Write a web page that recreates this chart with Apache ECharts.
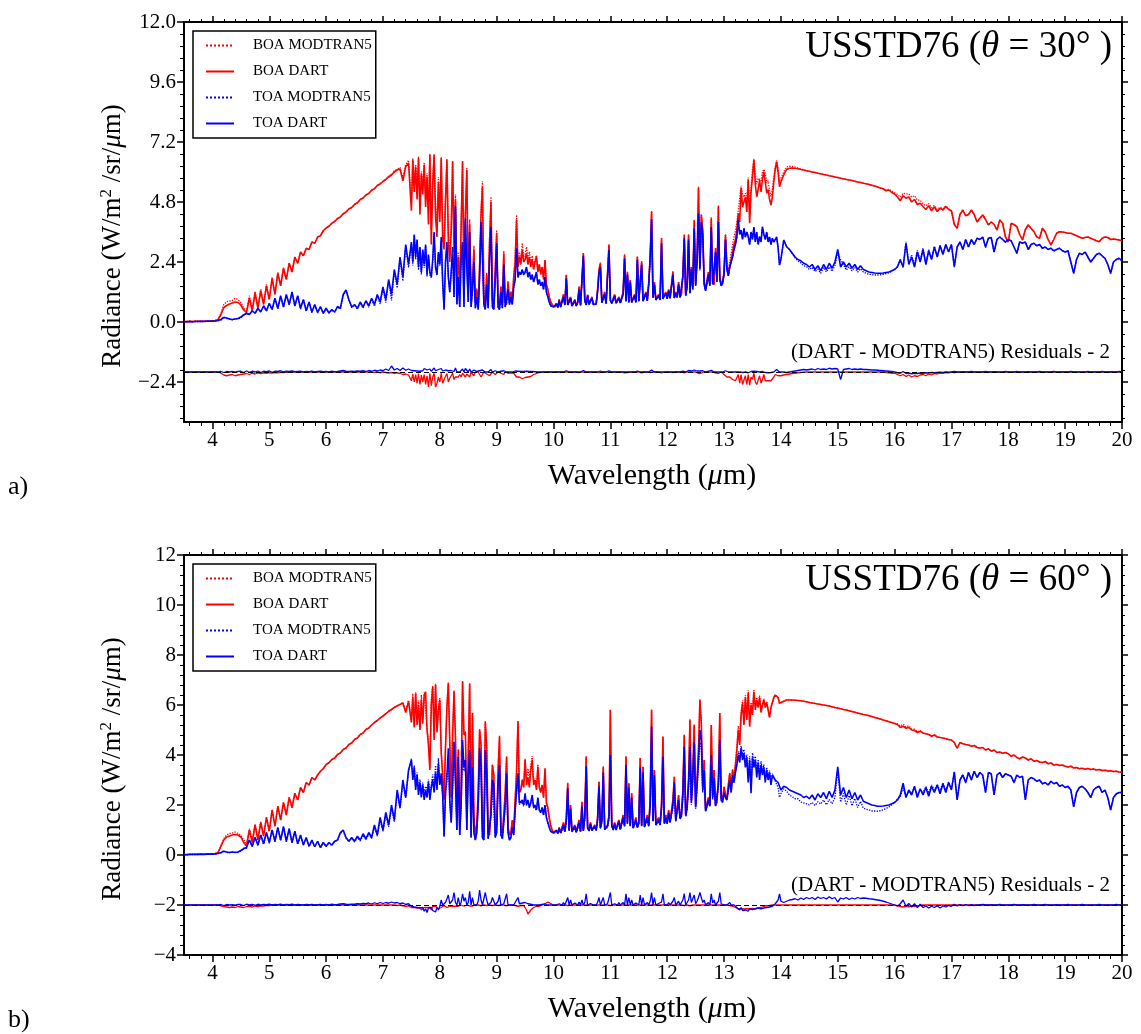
<!DOCTYPE html>
<html>
<head>
<meta charset="utf-8">
<title>USSTD76 radiance spectra</title>
<script src="https://cdn.jsdelivr.net/npm/echarts@6/dist/echarts.min.js"></script>
<style>
html,body{margin:0;padding:0;background:#fff;}
#chart{width:1141px;height:1034px;}
</style>
</head>
<body>
<div id="chart"></div>
<script>
// ---- wavelength sampling (µm) ----
const wlA = [
3.5,3.55,3.6,3.65,3.7,3.75,3.8,3.85,3.9,3.95,
4,4.05,4.1,4.15,4.2,4.25,4.3,4.35,4.4,4.45,
4.5,4.55,4.6,4.65,4.7,4.75,4.8,4.85,4.9,4.95,
5,5.05,5.1,5.15,5.2,5.25,5.3,5.35,5.4,5.45,
5.5,5.55,5.6,5.65,5.7,5.75,5.8,5.85,5.9,5.95,
6,6.05,6.1,6.15,6.2,6.25,6.3,6.35,6.4,6.45,
6.5,6.55,6.6,6.65,6.7,6.75,6.8,6.85,6.9,6.95,
7,7.05,7.1,7.15,7.2,7.25,7.3,7.35,7.4,7.45];
const wlB = [
7.5,7.525,7.55,7.575,7.6,7.625,7.65,7.675,7.7,7.725,7.75,7.775,7.8,7.825,7.85,7.875,7.9,7.925,7.95,7.975,
8,8.025,8.05,8.075,8.1,8.125,8.15,8.175,8.2,8.225,8.25,8.275,8.3,8.325,8.35,8.375,8.4,8.425,8.45,8.475,
8.5,8.525,8.55,8.575,8.6,8.625,8.65,8.675,8.7,8.725,8.75,8.775,8.8,8.825,8.85,8.875,8.9,8.925,8.95,8.975,
9,9.025,9.05,9.075,9.1,9.125,9.15,9.175,9.2,9.225,9.25,9.275,9.3,9.325,9.35,9.375,9.4,9.425,9.45,9.475,
9.5,9.525,9.55,9.575,9.6,9.625,9.65,9.675,9.7,9.725,9.75,9.775,9.8,9.825,9.85,9.875,9.9,9.925,9.95,9.975,
10,10.025,10.05,10.075,10.1,10.125,10.15,10.175,10.2,10.225,10.25,10.275,10.3,10.325,10.35,10.375,10.4,10.425,10.45,10.475,
10.5,10.525,10.55,10.575,10.6,10.625,10.65,10.675,10.7,10.725,10.75,10.775,10.8,10.825,10.85,10.875,10.9,10.925,10.95,10.975,
11,11.025,11.05,11.075,11.1,11.125,11.15,11.175,11.2,11.225,11.25,11.275,11.3,11.325,11.35,11.375,11.4,11.425,11.45,11.475,
11.5,11.525,11.55,11.575,11.6,11.625,11.65,11.675,11.7,11.725,11.75,11.775,11.8,11.825,11.85,11.875,11.9,11.925,11.95,11.975,
12,12.025,12.05,12.075,12.1,12.125,12.15,12.175,12.2,12.225,12.25,12.275,12.3,12.325,12.35,12.375,12.4,12.425,12.45,12.475,
12.5,12.525,12.55,12.575,12.6,12.625,12.65,12.675,12.7,12.725,12.75,12.775,12.8,12.825,12.85,12.875,12.9,12.925,12.95,12.975,
13,13.025,13.05,13.075,13.1,13.125,13.15,13.175,13.2,13.225,13.25,13.275,13.3,13.325,13.35,13.375,13.4,13.425,13.45,13.475,
13.5,13.525,13.55,13.575,13.6,13.625,13.65,13.675,13.7,13.725,13.75,13.775,13.8,13.825,13.85,13.875,13.9,13.925,13.95,13.975];
const wlC = [
14,14.05,14.1,14.15,14.2,14.25,14.3,14.35,14.4,14.45,
14.5,14.55,14.6,14.65,14.7,14.75,14.8,14.85,14.9,14.95,
15,15.05,15.1,15.15,15.2,15.25,15.3,15.35,15.4,15.45,
15.5,15.55,15.6,15.65,15.7,15.75,15.8,15.85,15.9,15.95,
16,16.05,16.1,16.15,16.2,16.25,16.3,16.35,16.4,16.45,
16.5,16.55,16.6,16.65,16.7,16.75,16.8,16.85,16.9,16.95,
17,17.05,17.1,17.15,17.2,17.25,17.3,17.35,17.4,17.45,
17.5,17.55,17.6,17.65,17.7,17.75,17.8,17.85,17.9,17.95,
18,18.05,18.1,18.15,18.2,18.25,18.3,18.35,18.4,18.45,
18.5,18.55,18.6,18.65,18.7,18.75,18.8,18.85,18.9,18.95,
19,19.05,19.1,19.15,19.2,19.25,19.3,19.35,19.4,19.45,
19.5,19.55,19.6,19.65,19.7,19.75,19.8,19.85,19.9,19.95,
20];

// ---- θ = 30°: BOA DART radiance (W/m²/sr/µm) ----
const boaDart30A = [
0.02,0.02,0.03,0.02,0.03,0.03,0.04,0.03,0.04,0.04,
0.05,0.06,0.10,0.30,0.58,0.66,0.72,0.76,0.80,0.78,
0.68,0.48,0.38,0.95,0.45,1.15,0.55,1.25,0.70,1.45,
0.90,1.75,1.10,1.95,1.45,2.15,1.70,2.35,2.00,2.60,
2.35,2.80,2.65,2.95,2.90,3.20,3.15,3.40,3.45,3.65,
3.76,3.83,3.95,4.02,4.14,4.20,4.33,4.40,4.52,4.58,
4.70,4.77,4.90,4.96,5.08,5.14,5.27,5.33,5.46,5.52,
5.62,5.70,5.80,5.88,6.00,6.08,6.12,5.65,6.22,6.35];
const boaDart30B = [
4.45,6.48,5.2,6.2,4.9,6.55,4.3,5.9,5.1,6.28,4.6,5.8,3.9,6.68,3.1,5.5,6.68,4.2,3.4,5.6,
4.0,6.55,3.3,2.9,4.8,6.48,3.2,2.4,3.6,6.41,2.8,4.9,1.6,2.6,1.2,3.8,6.41,1.5,4.3,6.08,
1.2,3.9,0.9,1.6,2.9,0.8,1.3,0.7,2.2,4.3,5.41,1.0,0.7,1.9,0.8,3.2,4.81,0.9,0.7,2.1,
3.55,0.8,0.65,1.4,0.7,2.75,0.8,0.7,1.6,0.9,1.2,0.9,1.8,2.4,4.08,2.2,2.6,2.3,2.88,2.4,
2.5,2.75,2.3,2.6,2.2,2.5,2.1,2.4,2.61,2.0,2.3,1.9,2.2,1.7,2.48,1.5,1.3,1.0,0.8,0.7,
0.62,0.6,0.75,0.6,0.9,0.62,0.65,1.1,0.7,1.88,0.7,0.65,1.0,0.66,0.7,0.9,0.66,0.8,1.41,0.68,
0.7,2.75,0.9,0.7,1.1,0.72,0.75,1.0,0.72,0.8,0.73,1.3,2.08,2.35,0.8,0.74,1.2,0.75,0.8,3.08,
0.9,0.76,0.8,1.1,0.77,0.78,1.0,0.78,0.8,1.2,2.68,0.85,2.0,0.8,1.68,0.8,0.82,1.1,0.8,2.61,
0.85,0.9,2.41,0.85,0.86,1.2,0.87,1.6,2.61,4.41,1.0,1.6,0.9,0.88,1.1,0.9,3.35,0.95,0.9,1.2,
0.95,1.3,0.96,1.0,2.01,0.98,1.2,1.0,1.6,1.0,1.1,1.9,3.48,1.1,1.5,3.48,1.2,2.2,1.4,4.05,
1.5,2.6,5.35,2.21,4.28,3.68,1.6,1.3,1.35,2.0,1.5,4.15,1.6,1.5,2.95,1.7,4.61,1.8,1.5,1.6,
2.0,3.48,2.2,1.9,2.21,2.5,2.8,3.1,3.3,3.7,4.35,4.0,5.35,4.6,4.55,5.0,4.4,5.68,3.95,5.2,
5.8,6.48,5.5,5.01,5.3,5.68,5.2,5.7,6.01,5.6,5.15,5.3,4.9,4.68,5.0,5.6,6.1,6.41,6.0,5.41];
const boaDart30C = [
5.6,5.88,6.1,6.15,6.16,6.15,6.13,6.1,6.08,6.05,
6.03,6.0,5.98,5.95,5.93,5.9,5.88,5.85,5.83,5.8,
5.78,5.75,5.73,5.7,5.68,5.66,5.63,5.6,5.58,5.55,
5.53,5.5,5.47,5.44,5.4,5.36,5.33,5.25,5.28,5.18,
5.12,5.0,4.85,5.05,4.95,5.0,4.8,4.9,4.7,4.75,
4.62,4.5,4.65,4.45,4.6,4.42,4.55,4.48,4.62,4.5,
4.45,3.9,3.75,4.3,4.48,4.25,4.3,4.48,4.3,4.0,
4.15,4.28,4.1,3.88,4.0,3.9,3.68,4.08,3.95,3.4,
3.2,3.95,3.9,3.81,3.5,3.28,3.7,3.88,3.75,3.62,
3.4,3.35,3.75,3.6,3.3,3.08,3.3,3.55,3.61,3.6,
3.58,3.55,3.55,3.5,3.45,3.4,3.35,3.38,3.4,3.35,
3.3,3.25,3.21,3.35,3.4,3.38,3.3,3.32,3.3,3.28,
3.25];

// ---- θ = 30°: TOA DART radiance ----
const toaDart30A = [
0.01,0.01,0.02,0.01,0.02,0.02,0.02,0.02,0.03,0.03,
0.03,0.04,0.06,0.10,0.18,0.16,0.12,0.10,0.12,0.14,
0.20,0.28,0.35,0.30,0.45,0.35,0.55,0.40,0.65,0.45,
0.75,0.50,0.95,0.55,1.05,0.60,1.10,0.70,1.20,0.65,
1.05,0.55,0.90,0.45,0.80,0.40,0.70,0.38,0.62,0.35,
0.55,0.36,0.50,0.40,0.62,0.55,1.10,1.28,0.90,0.60,
0.70,0.55,0.80,0.60,0.85,0.65,0.95,0.70,1.10,0.80,
1.40,0.90,1.70,1.10,2.10,1.50,2.60,1.80,3.10,2.30];
const toaDart30B = [
3.2,2.4,3.5,2.6,3.3,2.2,3.0,2.0,2.9,2.3,3.1,1.9,2.7,2.0,1.8,2.5,3.6,2.2,1.9,2.8,
2.3,3.4,1.6,0.5,2.4,3.2,1.8,1.2,2.0,3.0,1.0,4.64,0.7,1.8,0.6,2.5,3.2,0.6,4.15,2.2,
0.8,3.6,0.6,1.3,2.4,0.55,1.0,0.5,1.8,4.01,2.6,0.7,0.5,1.5,0.55,2.6,3.8,0.6,0.5,1.7,
3.15,0.6,0.5,1.2,0.55,2.3,0.6,0.55,1.3,0.7,1.0,0.7,1.4,1.7,2.95,1.8,2.0,1.9,2.1,1.9,
2.0,2.2,1.8,2.0,1.7,1.9,1.6,1.8,2.0,1.5,1.7,1.45,1.6,1.3,1.8,1.2,1.0,0.8,0.65,0.6,
0.6,0.58,0.72,0.58,0.85,0.6,0.62,1.0,0.68,1.75,0.68,0.62,0.95,0.64,0.68,0.85,0.64,0.76,1.3,0.66,
0.68,2.65,0.85,0.68,1.05,0.7,0.72,0.95,0.7,0.77,0.71,1.2,1.95,2.2,0.77,0.72,1.1,0.73,0.77,2.88,
0.86,0.74,0.77,1.05,0.75,0.76,0.95,0.76,0.78,1.1,2.55,0.82,1.9,0.78,1.6,0.78,0.8,1.05,0.78,2.5,
0.83,0.87,2.3,0.83,0.84,1.15,0.85,1.5,2.5,4.11,0.97,1.5,0.88,0.86,1.05,0.88,3.15,0.92,0.88,1.15,
0.93,1.25,0.94,0.98,1.9,0.96,1.15,0.98,1.5,0.98,1.05,1.8,3.35,1.05,1.4,3.3,1.15,2.1,1.3,3.75,
1.45,2.4,4.35,2.1,4.0,3.5,1.5,1.25,1.3,1.9,1.45,3.8,1.5,1.45,2.8,1.6,4.01,1.7,1.45,1.55,
1.9,3.3,2.1,1.85,2.2,2.4,2.6,2.9,3.1,3.4,4.08,3.5,3.68,3.3,3.75,3.4,3.6,3.41,3.1,3.6,
3.3,3.8,3.2,3.6,3.1,3.41,3.2,3.81,3.5,3.3,3.6,3.2,3.4,3.1,3.35,3.2,3.3,3.41,3.0,2.28];
const toaDart30C = [
2.5,3.28,3.01,2.9,2.75,2.6,2.5,2.45,2.35,2.3,
2.2,2.3,2.1,2.25,2.05,2.3,2.1,2.35,2.15,2.4,
2.9,2.2,2.4,2.2,2.35,2.15,2.3,2.1,2.25,2.1,
2.05,2.0,1.98,1.96,1.95,1.95,1.96,1.98,2.0,2.05,
2.1,2.2,2.48,2.2,3.15,2.3,2.6,2.2,2.8,2.4,
2.9,2.3,2.85,2.5,3.0,2.6,3.05,2.7,3.1,2.8,
3.1,2.21,3.0,3.2,2.9,3.3,3.0,3.3,3.1,3.35,
3.3,3.4,3.0,3.35,3.38,2.8,3.3,3.4,3.3,3.2,
3.3,3.25,3.0,2.75,3.2,3.15,3.2,2.9,3.1,3.15,
3.05,3.1,2.95,3.0,2.9,2.95,2.85,2.9,2.95,2.85,
2.8,2.85,2.4,1.95,2.5,2.75,2.7,2.8,2.6,2.4,
2.55,2.7,2.75,2.65,2.55,2.3,1.95,2.4,2.5,2.55,
2.45];

// ---- θ = 30°: residuals DART − MODTRAN5 ----
const residBoa30A = [
0,0,0,0,0,0,0,0,0,0,
0,0,0,-0.05,-0.12,-0.15,-0.12,-0.1,-0.15,-0.12,
-0.1,-0.08,-0.06,-0.1,-0.05,-0.08,-0.04,-0.06,-0.03,-0.05,
-0.02,-0.04,-0.02,-0.03,-0.01,-0.02,0,-0.01,0,0,
0,0,0,0,0,0,0,0,0,0,
0,0,0,0,0,0,0,0,0,0,
0,0,0,0,0,0,0,-0.02,0,-0.03,
0,-0.02,-0.04,-0.02,-0.05,-0.03,-0.06,-0.1,-0.08,-0.12];
const residBoa30B = [
-0.35,-0.08,-0.4,-0.1,-0.45,-0.06,-0.5,-0.12,-0.4,-0.1,-0.5,-0.15,-0.6,-0.05,-0.55,-0.2,-0.05,-0.6,-0.45,-0.2,
-0.4,-0.05,-0.45,-0.3,-0.3,-0.06,-0.4,-0.25,-0.3,-0.05,-0.3,-0.2,-0.15,-0.2,-0.1,-0.2,-0.05,-0.1,-0.2,-0.08,
-0.05,-0.2,0,-0.05,-0.15,0,-0.05,0,-0.1,-0.2,-0.22,0,0,-0.08,0,-0.15,-0.2,0,0,-0.1,
-0.12,0,0,-0.05,0,-0.1,0,0,-0.05,0,-0.03,0,-0.05,-0.1,-0.2,-0.15,-0.2,-0.22,-0.27,-0.2,
-0.22,-0.25,-0.2,-0.22,-0.18,-0.15,-0.1,-0.08,-0.06,-0.04,-0.02,0,0,0,0,0,0,0,0,0,
0,0,0,0,0,0,0,0,0,-0.02,0,0,0,0,0,0,0,0,-0.02,0,
0,-0.03,0,0,0,0,0,0,0,0,0,0,-0.02,-0.03,0,0,0,0,0,-0.03,
0,0,0,0,0,0,0,0,0,0,-0.03,0,-0.02,0,0,0,0,0,0,-0.03,
0,0,-0.03,0,0,0,0,0,-0.02,-0.04,0,0,0,0,0,0,-0.04,0,0,0,
0,0,0,0,-0.02,0,0,0,0,0,0,0,-0.04,0,0,-0.04,0,0,0,-0.05,
0,-0.02,-0.06,0,-0.04,-0.03,0,0,0,0,0,-0.05,0,0,-0.03,0,-0.06,0,0,-0.05,
-0.1,-0.05,-0.2,-0.15,-0.2,-0.25,-0.3,-0.3,-0.35,-0.3,-0.1,-0.45,-0.1,-0.5,-0.45,-0.15,-0.5,-0.1,-0.53,-0.2,
-0.3,-0.05,-0.4,-0.5,-0.45,-0.15,-0.45,-0.3,-0.1,-0.35,-0.4,-0.35,-0.35,-0.35,-0.3,-0.2,-0.1,-0.05,-0.15,-0.2];
const residBoa30C = [
-0.15,-0.12,-0.1,-0.08,-0.06,-0.05,-0.03,-0.02,-0.01,0,
0,0,0,0,0,0,0,0,0,0,
0,0,0,0,0,0,0,0,0,0,
0,0,0,0,0,0,0,-0.02,-0.03,-0.05,
-0.05,-0.1,-0.15,-0.1,-0.18,-0.12,-0.2,-0.15,-0.18,-0.12,
-0.1,-0.15,-0.08,-0.12,-0.06,-0.08,-0.04,-0.05,-0.02,-0.03,
0,-0.02,0,0,0,0,0,0,0,0,
0,0,0,0,0,0,0,0,0,0,
0,0,0,0,0,0,0,0,0,0,
0,0,0,0,0,0,0,0,0,0,
0,0,0,0,0,0,0,0,0,0,
0,0,0,0,0,0,0,0,0,0,
0];
const residToa30A = [
0,0,0,0,0,0,0,0,0,0,
0,0,0,0.02,-0.02,0.02,0,0.02,-0.01,0.02,
0.03,-0.02,0.04,-0.01,0.03,0,0.04,-0.02,0.03,0.01,
0.04,-0.01,0.03,0.02,0.05,0,0.03,0.02,0.04,0.01,
0.02,0.03,0,0.02,0.01,0.03,0,0.02,0.03,0.01,
0.02,0,0.03,0.01,0.02,0.04,0.06,0.03,0.02,0.03,
0.02,0.04,0.03,0.05,0.02,0.06,0.03,0.07,0.04,0.08,
0.05,0.12,0.06,0.24,0.08,0.14,0.06,0.16,0.07,0.12];
const residToa30B = [
0.06,0.14,0.05,0.1,0.04,0.12,0.03,0.1,0.05,0.14,0.06,0.08,0.04,0.12,0.03,0.1,0.16,0.05,0.04,0.1,
0.05,0.14,0.04,0,0.08,0.12,0.05,0.03,0.06,0.1,0.02,0.16,0,0.05,0,0.08,0.12,0,0.14,0.06,
0,0.12,0,0.04,0.08,0,0.02,0,0.05,0.12,0.08,0,0,0.04,0,0.08,0.1,0,0,0.05,
0.08,0,0,0.03,0,0.05,0,0,0.03,0,0.02,0,0.03,0.04,0.07,0.03,0.02,0.02,0.03,0.02,
0.02,0.03,0.01,0.02,0.01,0.02,0,0.01,0.02,0,0.01,0,0,0,0,0,0,0,0,0,
0,0,0,0,0,0,0,0,0,0.05,0,0,0,0,0,0,0,0,0.03,0,
0,0.06,0,0,0,0,0,0,0,0,0,0,0.03,0.04,0,0,0,0,0,0.05,
0,0,0,0,0,0,0,0,0,0,0.05,0,0.03,0,0,0,0,0,0,0.04,
0,0,0.05,0,0,0,0,0,0.04,0.08,0,0,0,0,0,0,0.06,0,0,0,
0,0,0,0,0.04,0,0,0,0,0,0,0.03,0.07,0,0,0.06,0,0.04,0,0.08,
0,0.04,0.1,0.04,0.07,0.05,0,0,0,0.03,0,0.07,0,0,0.05,0,0.08,0,0,0,
0,0.05,0,0,0,0,0,0,-0.02,0,0.04,0,0.03,-0.02,0.04,0,0.02,-0.03,0,0.02,
-0.02,0.03,-0.03,0.02,-0.04,0,-0.03,0.02,0,-0.02,0.02,-0.03,0,-0.02,0.02,0,0.05,0.1,0.04,0];
const residToa30C = [
-0.03,0,-0.02,0,0.02,0.04,0.06,0.08,0.1,0.08,
0.1,0.12,0.08,0.14,0.1,0.12,0.1,0.15,0.12,0.14,
0.12,-0.3,0.1,0.12,0.14,0.1,0.12,0.1,0.12,0.1,
0.1,0.09,0.08,0.08,0.07,0.06,0.05,0.04,0.03,0.02,
0,-0.03,-0.05,0.02,-0.06,-0.04,-0.07,-0.05,-0.06,-0.04,
-0.05,-0.03,-0.04,-0.02,-0.03,-0.02,-0.01,-0.02,0,-0.01,
0,0.02,0,0,0.01,0,0,0.02,0,0,
0,0,0.02,0,0,0.01,0,0,0,0.02,
0,0,0,0.02,0,0,0,0.01,0,0,
0,0.02,0,0,0,0,0.02,0,0,0,
0,0,0.02,0,0,0,0,0,0.02,0,
0,0,0,0.02,0,0,0.01,0,0,0.02,
0];

// ---- θ = 60°: BOA DART radiance ----
const boaDart60A = [
0.02,0.02,0.03,0.03,0.03,0.04,0.04,0.03,0.05,0.05,
0.05,0.06,0.1,0.35,0.6,0.72,0.76,0.8,0.82,0.8,
0.72,0.5,0.36,1.0,0.5,1.2,0.6,1.3,0.75,1.5,
0.95,1.8,1.15,1.95,1.4,2.1,1.6,2.3,1.9,2.47,
2.2,2.7,2.5,2.9,2.8,3.1,3.0,3.2,3.35,3.45,
3.62,3.69,3.82,3.88,4.02,4.08,4.22,4.28,4.42,4.48,
4.62,4.68,4.82,4.88,5.02,5.08,5.2,5.3,5.38,5.48,
5.56,5.65,5.75,5.82,5.9,5.96,6.02,6.08,5.7,6.15];
const boaDart60B = [
5.3,6.3,5.1,6.47,5.2,6.0,5.0,6.2,5.25,6.4,6.53,5.0,4.4,3.4,6.0,6.73,4.6,6.8,4.9,5.8,
6.2,4.07,3.2,2.2,4.3,5.9,6.87,4.5,2.3,4.8,6.53,4.7,1.4,4.2,1.2,2.8,6.93,4.8,4.9,1.6,
4.0,6.84,1.0,5.67,1.5,0.8,1.2,2.5,5.0,4.4,1.0,0.8,5.33,4.3,0.9,0.8,2.0,3.6,3.2,0.9,
1.2,3.4,4.73,1.0,0.85,1.6,2.5,3.93,1.1,0.8,0.9,1.4,1.0,2.2,3.3,5.33,2.5,2.6,3.0,2.7,
3.8,2.8,3.1,2.7,3.4,3.8,2.8,3.0,2.6,3.53,2.7,2.5,2.8,2.3,3.47,2.1,1.9,1.5,1.2,1.0,
0.9,0.88,1.0,0.88,1.1,0.9,0.92,1.3,0.95,1.5,2.87,1.0,2.0,0.95,0.92,1.2,0.93,1.0,1.4,0.95,
2.13,0.98,1.6,3.93,1.1,0.98,1.3,1.0,1.0,1.2,1.0,1.5,2.93,1.1,1.4,3.53,1.05,1.0,1.2,1.6,
5.8,1.2,1.02,1.3,1.03,1.05,1.4,1.05,1.1,1.6,1.2,3.93,1.3,2.87,1.2,2.47,1.1,1.15,1.5,1.12,
1.3,3.87,1.2,3.53,1.15,1.2,1.6,1.2,2.2,5.8,1.4,3.4,1.25,1.2,1.5,1.25,2.0,4.73,1.3,1.6,
1.3,1.8,1.35,1.4,2.2,3.13,1.4,1.45,2.4,1.5,1.6,2.6,4.8,1.6,2.0,3.0,5.4,2.2,3.4,5.2,
2.0,3.0,4.2,6.2,5.27,2.7,3.8,1.8,1.85,2.3,2.0,5.2,2.4,3.4,2.0,2.1,3.0,5.67,2.3,2.2,
2.73,2.4,2.3,2.8,3.27,2.6,3.4,3.0,3.6,4.2,5.0,4.4,5.6,6.07,5.2,6.3,5.4,6.47,5.13,6.0,
5.6,6.53,5.8,6.2,5.9,6.3,5.7,6.0,6.2,5.9,6.1,5.8,5.5,5.9,6.1,6.3,6.4,6.47,6.3,6.07];
const boaDart60C = [
6.07,6.15,6.2,6.2,6.2,6.19,6.18,6.17,6.15,6.13,
6.1,6.08,6.06,6.04,6.02,6.0,5.98,5.96,5.93,5.9,
5.88,5.85,5.82,5.8,5.77,5.74,5.71,5.68,5.65,5.62,
5.6,5.57,5.54,5.5,5.47,5.44,5.4,5.37,5.33,5.3,
5.26,5.22,5.1,5.15,5.07,5.1,5.0,4.98,4.9,4.95,
4.88,4.85,4.82,4.75,4.8,4.72,4.7,4.68,4.65,4.62,
4.6,4.5,4.27,4.5,4.45,4.42,4.4,4.35,4.38,4.3,
4.28,4.3,4.2,4.25,4.15,4.2,4.1,4.12,4.07,4.1,
4.05,3.95,4.0,3.9,3.85,3.92,3.88,3.8,3.85,3.75,
3.78,3.72,3.7,3.74,3.65,3.68,3.6,3.62,3.58,3.6,
3.55,3.52,3.55,3.48,3.5,3.45,3.47,3.43,3.46,3.42,
3.44,3.4,3.42,3.38,3.39,3.36,3.37,3.34,3.35,3.32,
3.3];

// ---- θ = 60°: TOA DART radiance ----
const toaDart60A = [
0.01,0.01,0.02,0.02,0.02,0.02,0.03,0.02,0.03,0.03,
0.03,0.04,0.06,0.1,0.15,0.12,0.1,0.12,0.1,0.12,
0.18,0.25,0.3,0.6,0.35,0.7,0.4,0.8,0.45,0.9,
0.5,1.0,0.55,1.1,0.6,1.13,0.55,1.05,0.5,0.95,
0.45,0.8,0.4,0.7,0.35,0.6,0.33,0.55,0.3,0.5,
0.35,0.5,0.4,0.55,0.6,0.9,1.0,0.7,0.55,0.7,
0.55,0.75,0.6,0.85,0.65,0.9,0.7,1.2,0.8,1.5,
1.0,1.7,1.2,2.0,1.4,2.6,1.9,3.0,2.3,3.4];
const toaDart60B = [
3.8,3.0,3.5,2.6,3.2,2.4,2.9,2.3,2.8,2.2,2.6,2.3,2.9,2.2,2.7,3.0,2.5,3.3,2.6,3.67,
2.8,3.27,2.4,0.73,2.5,3.2,4.27,2.2,1.3,2.8,4.53,3.0,1.0,3.93,0.8,2.0,4.6,3.5,3.8,1.0,
3.2,4.2,0.7,3.5,0.9,0.6,0.9,2.0,4.27,3.5,0.7,0.6,4.2,3.2,0.65,0.6,1.6,3.0,2.8,0.7,
0.9,2.8,3.6,0.8,0.65,1.3,2.0,3.27,0.9,0.6,0.7,1.1,0.8,1.8,2.6,3.27,2.07,2.1,2.2,2.0,
2.47,2.0,2.2,1.9,2.1,2.4,1.9,2.0,1.8,2.3,1.8,1.7,1.9,1.6,2.0,1.5,1.3,1.1,0.95,0.88,
0.88,0.86,0.97,0.86,1.05,0.88,0.9,1.2,0.93,1.4,2.67,0.97,1.85,0.93,0.9,1.15,0.91,0.98,1.3,0.93,
1.95,0.96,1.5,3.56,1.07,0.96,1.25,0.98,0.98,1.15,0.98,1.4,2.75,1.07,1.35,3.3,1.02,0.98,1.15,1.5,
4.0,1.15,1.0,1.25,1.0,1.02,1.35,1.02,1.07,1.5,1.15,3.6,1.25,2.7,1.15,2.3,1.07,1.12,1.4,1.1,
1.25,3.5,1.15,3.3,1.12,1.15,1.5,1.15,2.0,5.13,1.35,3.2,1.2,1.15,1.4,1.2,1.9,3.93,1.25,1.5,
1.25,1.7,1.3,1.35,2.0,2.9,1.35,1.4,2.2,1.45,1.55,2.4,4.33,1.55,1.9,2.8,4.33,2.1,3.1,4.5,
1.9,2.8,3.8,5.0,4.6,2.6,3.4,1.75,1.8,2.2,1.95,4.0,2.3,3.1,1.95,2.0,2.8,4.6,2.2,2.1,
2.5,2.3,2.2,2.6,3.0,2.5,3.2,2.9,3.3,3.6,4.0,3.7,4.27,3.8,4.07,3.5,3.9,2.9,3.8,2.47,
3.9,3.5,3.8,3.1,3.7,3.0,3.6,3.2,3.5,2.9,3.4,3.0,3.3,2.8,3.2,3.1,3.0,3.07,2.9,2.75];
const toaDart60C = [
2.6,2.75,2.7,2.6,2.55,2.5,2.45,2.4,2.3,2.35,
2.25,2.4,2.2,2.45,2.3,2.5,2.25,2.55,2.3,2.6,
3.53,2.4,2.7,2.3,2.6,2.25,2.5,2.2,2.4,2.15,
2.1,2.05,2.0,1.98,1.95,1.95,1.96,1.98,2.0,2.05,
2.1,2.2,2.4,2.87,2.3,2.6,2.4,2.75,2.3,2.65,
2.4,2.7,2.35,2.75,2.5,2.8,2.45,2.85,2.5,2.9,
2.6,3.33,2.2,3.0,3.2,2.9,3.3,3.0,3.35,3.1,
3.3,3.2,2.5,3.3,3.25,2.4,3.2,3.3,3.1,3.25,
3.2,3.15,2.9,3.2,3.1,3.15,2.2,3.0,3.1,3.05,
2.95,3.0,2.85,2.9,2.8,2.95,2.85,2.9,2.75,2.8,
2.7,2.75,2.6,1.93,2.5,2.7,2.75,2.65,2.5,2.3,
2.6,2.7,2.75,2.5,2.6,2.3,1.8,2.3,2.45,2.5,
2.5];

// ---- θ = 60°: residuals DART − MODTRAN5 ----
const residBoa60A = [
0,0,0,0,0,0,0,0,0,0,
0,0,0,-0.03,-0.06,-0.08,-0.1,-0.08,-0.1,-0.06,
-0.08,-0.1,-0.06,-0.05,-0.08,-0.04,-0.06,-0.03,-0.04,-0.02,
-0.02,0,-0.01,0,0,0,0,0,0,0,
0,0,0,0,0,0,0,0,0,0,
0,0,0,0,0,0,0,0,0,0,
0,0,0,0,0,0,0,0,0,0,
0,0,0,0,0,-0.02,0,-0.03,-0.05,-0.04];
const residBoa60B = [
-0.1,-0.15,-0.1,-0.05,-0.12,-0.18,-0.1,-0.2,-0.15,-0.1,-0.05,-0.1,-0.15,-0.1,-0.2,-0.05,-0.1,-0.05,-0.1,-0.15,
-0.1,-0.1,-0.05,-0.02,-0.05,-0.1,-0.03,-0.05,0,-0.05,-0.05,-0.05,0,-0.05,0,0,-0.03,-0.05,-0.05,0,
-0.03,-0.04,0,-0.04,0,0,0,0,-0.05,-0.03,0,0,-0.04,-0.02,0,0,0,-0.02,-0.02,0,
0,-0.02,-0.04,0,0,0,0,-0.03,0,0,0,0,0,-0.02,-0.03,-0.05,-0.03,-0.02,-0.03,-0.02,
-0.05,-0.2,-0.36,-0.3,-0.2,-0.15,-0.1,-0.08,-0.05,-0.1,-0.05,-0.03,0,0.02,0.05,0.08,0.12,0.1,0.06,0.03,
0,0,0,0,0,0,0,0,0,0,-0.02,0,0,0,0,0,0,0,0,0,
0,0,0,-0.02,0,0,0,0,0,0,0,0,0,0,0,-0.02,0,0,0,0,
-0.02,0,0,0,0,0,0,0,0,0,0,-0.02,0,0,0,0,0,0,0,0,
0,-0.02,0,0,0,0,0,0,0,-0.03,0,0,0,0,0,0,0,-0.02,0,0,
0,0,0,0,0,0,0,0,0,0,0,0,-0.02,0,0,0,-0.03,0,0,-0.02,
0,0,0,-0.03,0,0,0,0,0,0,0,-0.02,0,0,0,0,0,-0.03,0,0,
0,0,0,0,-0.02,-0.03,-0.05,-0.08,-0.1,-0.12,-0.16,-0.1,-0.14,-0.12,-0.16,-0.1,-0.15,-0.12,-0.16,-0.1,
-0.14,-0.1,-0.15,-0.1,-0.12,-0.08,-0.1,-0.06,-0.05,-0.04,-0.03,-0.02,-0.02,0,0,0,0,0,0,0];
const residBoa60C = [
0,0,0,0,0,0,0,0,0,0,
0,0,0,0,0,0,0,0,0,0,
0,0,0,0,0,0,0,0,0,0,
0,0,0,0,0,0,0,0,0,0,
0,-0.03,-0.06,-0.08,-0.05,-0.07,-0.04,-0.05,-0.03,-0.02,
0,0,0,0,0,0,0,0,0,0,
0,0,0,0,0,0,0,0,0,0,
0,0,0,0,0,0,0,0,0,0,
0,0,0,0,0,0,0,0,0,0,
0,0,0,0,0,0,0,0,0,0,
0,0,0,0,0,0,0,0,0,0,
0,0,0,0,0,0,0,0,0,0,
0];
const residToa60A = [
0,0,0,0,0,0,0,0,0,0,
0,0,0,0.02,-0.02,0.02,0,0.01,-0.01,0.02,
0.02,-0.02,0.03,0,0.02,-0.01,0.03,0,0.02,0.01,
0.03,0,0.02,0.01,0.03,0,0.02,0.01,0.03,0,
0.02,0.01,0,0.02,0.01,0.02,0,0.01,0.02,0,
0.02,0,0.03,0.01,0.02,0.04,0.05,0.03,0.02,0.03,
0.03,0.05,0.04,0.06,0.05,0.08,0.04,0.09,0.05,0.1,
0.06,0.1,0.07,0.12,0.08,0.1,0.05,0.08,0.02,0.05];
const residToa60B = [
-0.05,-0.12,-0.08,-0.15,-0.1,-0.18,-0.12,-0.2,-0.1,-0.25,-0.15,-0.3,-0.12,-0.2,-0.1,-0.22,-0.15,-0.28,-0.1,-0.2,
-0.05,0.2,0,-0.05,0.1,0.25,0.4,0.05,0,0.2,0.5,0.1,0,0.3,0,0.1,0.45,0.15,0.3,0,
0.1,0.55,0,0.3,0,0,0,0.15,0.6,0.2,0,0,0.5,0.2,0,0,0.1,0.3,0.15,0,
0,0.15,0.4,0,0,0.05,0.1,0.45,0,0,0,0.05,0,0.1,0.15,0.3,0.05,0.05,0.08,0.05,
0.1,0.02,0.05,0,0.03,0.06,0,0.02,0,0.05,0,0,0.02,0,0.04,0,0,0,0,0,
0,0,0,0,0.05,0,0,0.1,0,0.15,0.3,0,0.2,0,0,0.08,0,0,0.12,0,
0.2,0,0.1,0.45,0,0,0.06,0,0,0.05,0,0.1,0.3,0,0.08,0.3,0,0,0.05,0.1,
0.5,0,0,0.05,0,0,0.1,0,0,0.1,0,0.45,0,0.3,0,0.2,0,0,0.08,0,
0,0.4,0,0.3,0,0,0.1,0,0.15,0.5,0,0.3,0,0,0.06,0,0.12,0.45,0,0.08,
0,0.1,0,0,0.15,0.3,0,0,0.15,0,0.05,0.2,0.45,0,0.1,0.2,0.5,0.1,0.25,0.4,
0.05,0.15,0.3,0.5,0.3,0.1,0.2,0,0,0.1,0,0.45,0.08,0.2,0,0.05,0.15,0.5,0.05,0,
0,0,0,0.05,0.1,0,0.05,0,-0.05,-0.1,-0.15,-0.2,-0.1,-0.22,-0.15,-0.2,-0.12,-0.25,-0.15,-0.22,
-0.18,-0.2,-0.15,-0.22,-0.12,-0.2,-0.15,-0.18,-0.12,-0.15,-0.1,-0.12,-0.08,-0.1,-0.05,0,0.05,0.1,0.2,0.44];
const residToa60C = [
0.15,0.1,0.15,0.2,0.22,0.25,0.2,0.28,0.22,0.3,
0.25,0.3,0.22,0.32,0.26,0.3,0.24,0.33,0.25,0.3,
0.12,0.28,0.24,0.3,0.22,0.28,0.24,0.3,0.26,0.28,
0.27,0.25,0.24,0.22,0.2,0.18,0.15,0.12,0.08,0.04,
0,-0.04,0.05,0.2,-0.05,0.06,-0.08,0.05,-0.1,0.03,
-0.1,-0.04,-0.12,-0.05,-0.1,-0.03,-0.12,-0.04,-0.08,-0.02,
-0.05,0.03,-0.04,0.02,-0.03,0.02,-0.02,0.01,-0.02,0,
0,0.02,0,0,0.01,0,0,0.02,0,0,
0,0,0.02,0,0,0.01,0,0,0,0.02,
0,0,0,0.02,0,0,0,0.01,0,0,
0,0.02,0,0,0,0,0.02,0,0,0,
0,0,0.02,0,0,0,0,0,0.02,0,
0];

// ---- axis ticks ----
const xTicks = [4,5,6,7,8,9,10,11,12,13,14,15,16,17,18,19,20];
const yTicks30 = [-2.4,0,2.4,4.8,7.2,9.6,12];
const yTicks60 = [-4,-2,0,2,4,6,8,10,12];

const legendNames = ['BOA MODTRAN5','BOA DART','TOA MODTRAN5','TOA DART'];
const RESIDUAL_OFFSET = 2;
const X_MIN = 3.5, X_MAX = 20, Y_MIN = -4, Y_MAX = 12;
const RED = '#ff0000', BLUE = '#0000ff';
const SERIF = '"Liberation Serif","DejaVu Serif","Times New Roman",serif';

// ---- assemble ----
const wl = wlA.concat(wlB, wlC);
const join = (a, b, c) => a.concat(b, c);
const toPairs = ys => wl.map((x, i) => [x, ys[i]]);
const modtranFrom = (dart, resid) => dart.map((v, i) => +(v - resid[i]).toFixed(3));
const offsetResid = resid => resid.map(v => +(v - RESIDUAL_OFFSET).toFixed(3));

function minorTicks(step, lo, hi) {
  const out = [];
  for (let k = Math.ceil(lo / step - 1e-9); k * step <= hi + 1e-9; k++) {
    if (k % 5 !== 0) out.push(+(k * step).toFixed(3));
  }
  return out;
}
const xMinor = minorTicks(0.2, X_MIN, X_MAX);

const panels = [
  {
    boa: join(boaDart30A, boaDart30B, boaDart30C),
    toa: join(toaDart30A, toaDart30B, toaDart30C),
    rBoa: join(residBoa30A, residBoa30B, residBoa30C),
    rToa: join(residToa30A, residToa30B, residToa30C),
    yTicks: yTicks30, yMinor: minorTicks(0.48, Y_MIN, Y_MAX),
    fmt: v => v.toFixed(1).replace('-', '\u2212'),
    angle: '30', top: 22, tag: 'a)'
  },
  {
    boa: join(boaDart60A, boaDart60B, boaDart60C),
    toa: join(toaDart60A, toaDart60B, toaDart60C),
    rBoa: join(residBoa60A, residBoa60B, residBoa60C),
    rToa: join(residToa60A, residToa60B, residToa60C),
    yTicks: yTicks60, yMinor: minorTicks(0.4, Y_MIN, Y_MAX),
    fmt: v => String(v).replace('-', '\u2212'),
    angle: '60', top: 555, tag: 'b)'
  }
];

const GRID_LEFT = 184, GRID_W = 938, GRID_H = 400;
const lineAxis = { color: '#000', width: 2 };
const majorTick = { color: '#000', width: 1.5 };
const minorTick = { color: '#000', width: 1 };

const grids = [], xAxes = [], yAxes = [], series = [], legends = [], graphics = [];

panels.forEach((p, g) => {
  grids.push({ left: GRID_LEFT, top: p.top, width: GRID_W, height: GRID_H, containLabel: false });

  const xb = { type: 'value', gridIndex: g, min: X_MIN, max: X_MAX, splitLine: { show: false } };
  xAxes.push(
    Object.assign({}, xb, { position: 'bottom',
      axisLine: { show: true, onZero: false, lineStyle: lineAxis },
      axisTick: { show: true, customValues: xTicks, length: 7, lineStyle: majorTick },
      axisLabel: { show: true, customValues: xTicks, margin: 8, color: '#000', fontFamily: SERIF, fontSize: 21 } }),
    Object.assign({}, xb, { position: 'bottom',
      axisLine: { show: false, onZero: false },
      axisTick: { show: true, customValues: xMinor, length: 4, lineStyle: minorTick },
      axisLabel: { show: false } }),
    Object.assign({}, xb, { position: 'top',
      axisLine: { show: true, onZero: false, lineStyle: lineAxis },
      axisTick: { show: true, customValues: xTicks, length: 6, lineStyle: majorTick },
      axisLabel: { show: false } }),
    Object.assign({}, xb, { position: 'top',
      axisLine: { show: false, onZero: false },
      axisTick: { show: true, customValues: xMinor, length: 3, lineStyle: minorTick },
      axisLabel: { show: false } })
  );

  const yb = { type: 'value', gridIndex: g, min: Y_MIN, max: Y_MAX, splitLine: { show: false } };
  yAxes.push(
    Object.assign({}, yb, { position: 'left',
      axisLine: { show: true, onZero: false, lineStyle: lineAxis },
      axisTick: { show: true, customValues: p.yTicks, length: 7, lineStyle: majorTick },
      axisLabel: { show: true, customValues: p.yTicks, margin: 8, color: '#000', fontFamily: SERIF, fontSize: 21, formatter: p.fmt } }),
    Object.assign({}, yb, { position: 'left',
      axisLine: { show: false, onZero: false },
      axisTick: { show: true, customValues: p.yMinor, length: 4, lineStyle: minorTick },
      axisLabel: { show: false } }),
    Object.assign({}, yb, { position: 'right',
      axisLine: { show: true, onZero: false, lineStyle: lineAxis },
      axisTick: { show: true, customValues: p.yTicks, length: 6, lineStyle: majorTick },
      axisLabel: { show: false } }),
    Object.assign({}, yb, { position: 'right',
      axisLine: { show: false, onZero: false },
      axisTick: { show: true, customValues: p.yMinor, length: 3, lineStyle: minorTick },
      axisLabel: { show: false } })
  );

  const ax = { xAxisIndex: g * 4, yAxisIndex: g * 4 };
  const line = (name, data, color, width, type, extra) => Object.assign({
    name, type: 'line', data, symbol: 'none', showSymbol: false, silent: true,
    lineStyle: { color, width, type }, itemStyle: { color }, emphasis: { disabled: true }
  }, ax, extra || {});

  series.push(
    line('BOA MODTRAN5', toPairs(modtranFrom(p.boa, p.rBoa)), RED, 1.3, 'dotted'),
    line('BOA DART', toPairs(p.boa), RED, 1.6, 'solid'),
    line('TOA MODTRAN5', toPairs(modtranFrom(p.toa, p.rToa)), BLUE, 1.3, 'dotted'),
    line('TOA DART', toPairs(p.toa), BLUE, 1.6, 'solid'),
    line('BOA residual', toPairs(offsetResid(p.rBoa)), RED, 1.3, 'solid'),
    line('TOA residual', toPairs(offsetResid(p.rToa)), BLUE, 1.3, 'solid', {
      markLine: { silent: true, symbol: 'none', label: { show: false },
        lineStyle: { color: '#000', width: 1, type: [5, 3] }, data: [{ yAxis: -RESIDUAL_OFFSET }] }
    })
  );

  legends.push({
    data: legendNames, orient: 'vertical', left: 193, top: p.top + 9,
    itemWidth: 28, itemHeight: 14, itemGap: 11,
    padding: [7, 4, 7, 12], borderColor: '#000', borderWidth: 1.5, backgroundColor: '#fff',
    selectedMode: false,
    itemStyle: { opacity: 0 },
    textStyle: { color: '#000', fontFamily: SERIF, fontSize: 15, padding: [0, 0, 0, 14] }
  });

  // panel title
  graphics.push({ type: 'text', x: 1112, y: p.top + 25, z: 100,
    style: { text: 'USSTD76 ({it|\u03b8} = ' + p.angle + '\u00b0 )', fill: '#000', fontFamily: SERIF, fontSize: 37,
      align: 'right', verticalAlign: 'middle',
      rich: { it: { fontStyle: 'italic', fontFamily: SERIF, fontSize: 37, fill: '#000' } } } });
  // residual annotation
  graphics.push({ type: 'text', x: 1110, y: p.top + 330, z: 100,
    style: { text: '(DART - MODTRAN5) Residuals - ' + RESIDUAL_OFFSET, fill: '#000', fontFamily: SERIF, fontSize: 21,
      align: 'right', verticalAlign: 'middle' } });
  // x axis title
  graphics.push({ type: 'text', x: 652, y: p.top + 454, z: 100,
    style: { text: 'Wavelength ({it|\u03bc}m)', fill: '#000', fontFamily: SERIF, fontSize: 30,
      align: 'center', verticalAlign: 'middle',
      rich: { it: { fontStyle: 'italic', fontFamily: SERIF, fontSize: 30, fill: '#000' } } } });
  // y axis title
  graphics.push({ type: 'text', x: 113, y: p.top + 214, rotation: Math.PI / 2, z: 100,
    style: { text: 'Radiance (W/m{sup|2} /sr/{it|\u03bc}m)', fill: '#000', fontFamily: SERIF, fontSize: 27,
      align: 'center', verticalAlign: 'middle',
      rich: {
        sup: { fontFamily: SERIF, fontSize: 17, fill: '#000', verticalAlign: 'top', lineHeight: 30 },
        it: { fontStyle: 'italic', fontFamily: SERIF, fontSize: 27, fill: '#000' }
      } } });
  // panel tag
  graphics.push({ type: 'text', x: 8, y: p.top + 465, z: 100,
    style: { text: p.tag, fill: '#000', fontFamily: SERIF, fontSize: 26, align: 'left', verticalAlign: 'middle' } });
});

const chart = echarts.init(document.getElementById('chart'), null, { renderer: 'canvas' });
chart.setOption({
  animation: false,
  backgroundColor: '#fff',
  grid: grids,
  xAxis: xAxes,
  yAxis: yAxes,
  legend: legends,
  series: series,
  graphic: graphics
});
</script>
</body>
</html>
